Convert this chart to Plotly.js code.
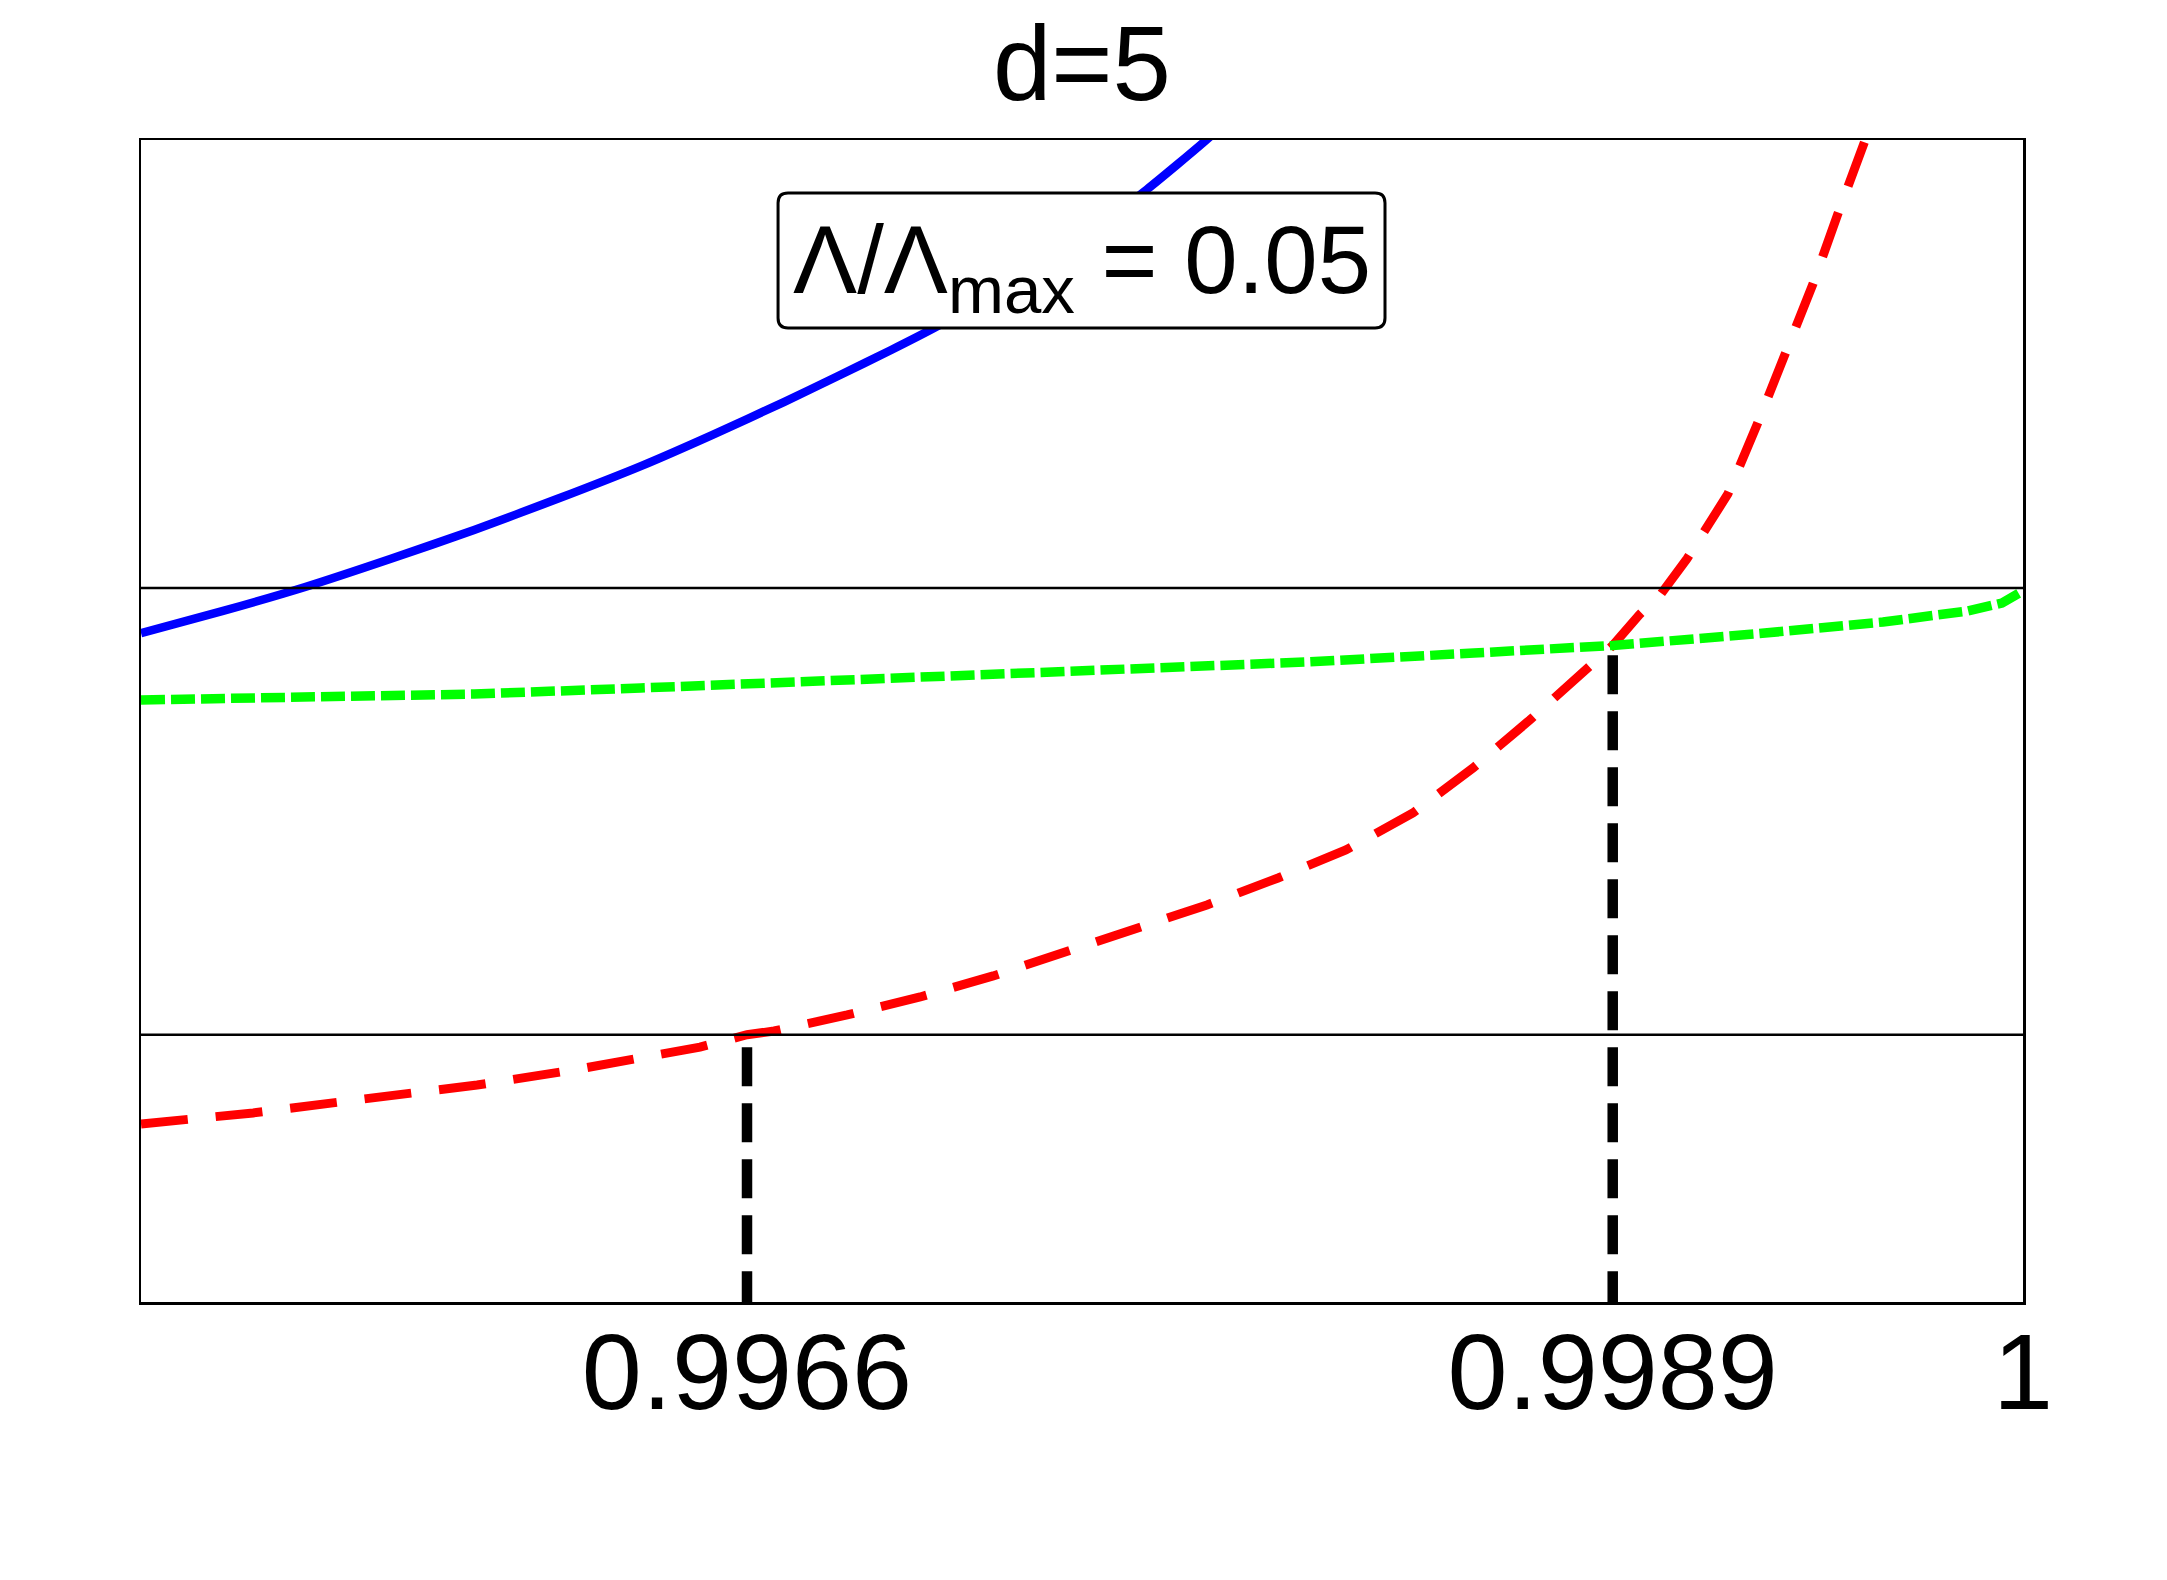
<!DOCTYPE html>
<html>
<head>
<meta charset="utf-8">
<script src="https://cdn.plot.ly/plotly-3.0.1.min.js"></script>
<style>
  html, body { margin: 0; padding: 0; background: #ffffff; }
  #chart { width: 2167px; height: 1580px; }
</style>
</head>
<body>
<div id="chart"></div>
<script>
// Blue solid curve
const blueX = [0.995000, 0.995218, 0.995436, 0.995662, 0.995885, 0.996105, 0.996328, 0.996517,
               0.996708, 0.996852, 0.996993, 0.997107, 0.997282, 0.997442, 0.997574, 0.997673,
               0.997752, 0.997827, 0.997893];
const blueY = [0.5757, 0.5947, 0.6153, 0.6394, 0.6644, 0.6910, 0.7194, 0.7461,
               0.7745, 0.7969, 0.8193, 0.8382, 0.8697, 0.9026, 0.9332, 0.9576,
               0.9786, 0.9991, 1.0182];

// Red dashed curve
const redX = [0.995000, 0.995298, 0.995569, 0.995893, 0.996164, 0.996485, 0.996610, 0.996682,
              0.996876, 0.997070, 0.997264, 0.997452, 0.997641, 0.997832, 0.998021, 0.998201,
              0.998379, 0.998539, 0.998690, 0.998839, 0.998910, 0.998980, 0.999038, 0.999107,
              0.999150, 0.999216, 0.999293, 0.999370, 0.999442, 0.999508, 0.999577, 0.999620];
const redY = [0.1532, 0.1627, 0.1738, 0.1867, 0.2005, 0.2194, 0.2300, 0.2332,
              0.2470, 0.2625, 0.2806, 0.3003, 0.3201, 0.3417, 0.3649, 0.3890,
              0.4208, 0.4596, 0.5009, 0.5456, 0.5650, 0.5912, 0.6093, 0.6394,
              0.6609, 0.6954, 0.7547, 0.8158, 0.8761, 0.9363, 0.9983, 1.0344];

// Green dotted curve
const greenX = [0.995000, 0.995444, 0.995885, 0.996328, 0.996772, 0.997213, 0.997657, 0.998100,
                0.998541, 0.998910, 0.999288, 0.999628, 0.999854, 0.999944, 1.000000];
const greenY = [0.5181, 0.5207, 0.5232, 0.5284, 0.5336, 0.5387, 0.5448, 0.5508,
                0.5585, 0.5650, 0.5749, 0.5852, 0.5947, 0.6015, 0.6120];

// Horizontal reference levels
const levelLines = [0.2300, 0.6145];

// Crossing points marked with vertical dashed drops
const crossX = [0.99661, 0.99891];
const crossY = [0.2300, 0.5650];

// Axis settings
const xRange = [0.995, 1.0];
const yRange = [0, 1];
const yDropStart = -0.007;
const tickVals = [crossX[0], crossX[1], 1];
const tickText = [crossX[0].toFixed(4), crossX[1].toFixed(4), '1'];

const titleText = 'd=5';
const boxText = 'Λ/Λ<sub>max</sub> = 0.05';

const FONT = 'Liberation Sans, Arial, Helvetica, sans-serif';

const traces = [];

// vertical drops from the axis floor up to each crossing
crossX.forEach((cx, i) => {
  traces.push({
    x: [cx, cx],
    y: [yDropStart, crossY[i]],
    mode: 'lines',
    line: { color: '#000000', width: 10.5, dash: '39px,17px' },
    hoverinfo: 'skip',
    showlegend: false
  });
});

traces.push({
  x: redX, y: redY, mode: 'lines',
  line: { color: '#ff0000', width: 9, dash: '47px,28px' },
  showlegend: false
});

traces.push({
  x: greenX, y: greenY, mode: 'lines',
  line: { color: '#00ff00', width: 9.5, dash: '24px,6px' },
  showlegend: false
});

traces.push({
  x: blueX, y: blueY, mode: 'lines',
  line: { color: '#0000ff', width: 8.5, shape: 'spline', smoothing: 0.6 },
  showlegend: false
});

// rounded label box (paper coordinates)
const bx0 = 0.3385, bx1 = 0.6610, by0 = 0.8382, by1 = 0.9544, rx = 0.0053, ry = 0.0086;
const boxPath =
  `M ${bx0 + rx},${by1} L ${bx1 - rx},${by1} Q ${bx1},${by1} ${bx1},${by1 - ry} ` +
  `L ${bx1},${by0 + ry} Q ${bx1},${by0} ${bx1 - rx},${by0} ` +
  `L ${bx0 + rx},${by0} Q ${bx0},${by0} ${bx0},${by0 + ry} ` +
  `L ${bx0},${by1 - ry} Q ${bx0},${by1} ${bx0 + rx},${by1} Z`;

const shapes = levelLines.map(v => ({
  type: 'line', xref: 'paper', yref: 'y',
  x0: 0, x1: 1, y0: v, y1: v,
  line: { color: '#000000', width: 2.5 },
  layer: 'above'
}));
shapes.push({
  type: 'path', xref: 'paper', yref: 'paper',
  path: boxPath,
  fillcolor: '#ffffff',
  line: { color: '#000000', width: 3 },
  layer: 'above'
});

const layout = {
  width: 2167,
  height: 1580,
  margin: { l: 141, r: 144, t: 140, b: 278, pad: 0 },
  paper_bgcolor: '#ffffff',
  plot_bgcolor: '#ffffff',
  font: { family: FONT, color: '#000000' },
  title: {
    text: titleText,
    font: { family: FONT, size: 105, color: '#000000' },
    x: 0.4993, xanchor: 'center', xref: 'container',
    y: 1 - 100 / 1580, yanchor: 'bottom', yref: 'container'
  },
  xaxis: {
    range: xRange,
    tickmode: 'array',
    tickvals: tickVals,
    ticktext: tickText,
    ticks: '',
    ticklabelstandoff: -25,
    tickfont: { family: FONT, size: 108, color: '#000000' },
    showgrid: false,
    zeroline: false,
    showline: true,
    linecolor: '#000000',
    linewidth: 2.5,
    mirror: true
  },
  yaxis: {
    range: yRange,
    showticklabels: false,
    ticks: '',
    showgrid: false,
    zeroline: false,
    showline: true,
    linecolor: '#000000',
    linewidth: 2.5,
    mirror: true
  },
  shapes: shapes,
  annotations: [{
    text: boxText,
    xref: 'paper', yref: 'paper',
    x: 0.5, y: 0.891,
    xanchor: 'center', yanchor: 'middle',
    showarrow: false,
    font: { family: FONT, size: 96, color: '#000000' }
  }]
};

Plotly.newPlot('chart', traces, layout, { displayModeBar: false, staticPlot: true });
</script>
</body>
</html>
